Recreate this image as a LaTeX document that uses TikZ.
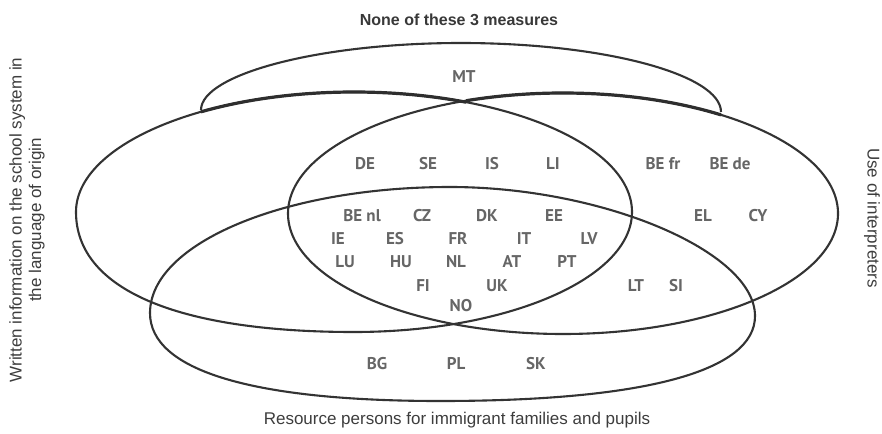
\documentclass[tikz,border=0pt]{standalone}
\usepackage{fontspec}
\setmainfont{Liberation Sans}
\newfontfamily\codefont{PT Sans}
\begin{document}
\begin{tikzpicture}[x=1pt,y=-1pt,
  setline/.style={line width=2.1pt, draw=black!80, line join=round},
  mtedge/.style={line width=3.2pt, draw=black!82, line join=round},
  cc/.style={font=\codefont\bfseries\fontsize{17}{17}\selectfont, text=black!60,
    inner sep=0pt, text height=12pt, text depth=0pt},
  caption/.style={font=\fontsize{17}{19.5}\selectfont, text=black!76, inner sep=0pt, align=center},
  heading/.style={font=\bfseries\fontsize{16}{16}\selectfont, text=black!78, inner sep=0pt},
]
\useasboundingbox (0,0) rectangle (882,433);

% Written information on the school system (fuller lower-left quarter)
\draw[setline] (76,212)
  .. controls (76,145.7) and (200.5,92) .. (354,92)
  .. controls (507.5,92) and (632,145.7) .. (632,212)
  .. controls (632,278.3) and (507.5,332) .. (354,332)
  .. controls (176,332) and (76,288.8) .. cycle;

% Use of interpreters
\draw[setline] (563,213.5) ellipse [x radius=275, y radius=120.5];

% Resource persons for immigrant families and pupils
\draw[setline] (150,313)
  .. controls (150,243.4) and (284.4,187) .. (450,187)
  .. controls (602.5,187) and (755,251.5) .. (755,316)
  .. controls (755,371.25) and (644.75,401) .. (440,401)
  .. controls (251.5,401) and (150,370.2) .. cycle;

% None of these 3 measures: cap resting on the two upper arcs
\draw[setline] (201,110)
  .. controls (201,74.7) and (317.5,43) .. (461,43)
  .. controls (604.5,43) and (721,74.7) .. (721,112);
\draw[mtedge] plot[domain=201:466, samples=40, variable=\t]
  (\t, {212-120*sqrt(1-((\t-354)/278)^2)});
\draw[mtedge] plot[domain=466:721, samples=40, variable=\t]
  (\t, {213.5-120.5*sqrt(1-((\t-563)/275)^2)});

% set captions
\node[heading] (top) at (459,20) {None of these 3 measures};
\node[caption] (bottom) at (457,420) {Resource persons for immigrant families and pupils};
\node[caption, rotate=90] (left) at (27,220) {Written information on the school system in\\the language of origin};
\node[caption, rotate=-90] (right) at (872,218) {Use of interpreters};

% country codes
\node[cc] (MT) at (464,77) {MT};

\node[cc] (DE) at (365,163) {DE};
\node[cc] (SE) at (428,163) {SE};
\node[cc] (IS) at (492,163) {IS};
\node[cc] (LI) at (553,163) {LI};
\node[cc] (BEfr) at (663,163) {BE fr};
\node[cc] (BEde) at (730,163) {BE de};

\node[cc] (BEnl) at (362,215) {BE nl};
\node[cc] (CZ) at (422,215) {CZ};
\node[cc] (DK) at (487,215) {DK};
\node[cc] (EE) at (554,215) {EE};
\node[cc] (EL) at (703,215) {EL};
\node[cc] (CY) at (758,215) {CY};

\node[cc] (IE) at (338,238) {IE};
\node[cc] (ES) at (395,238) {ES};
\node[cc] (FR) at (458,238) {FR};
\node[cc] (IT) at (524,238) {IT};
\node[cc] (LV) at (589,238) {LV};

\node[cc] (LU) at (345,261) {LU};
\node[cc] (HU) at (401,261) {HU};
\node[cc] (NL) at (456,261) {NL};
\node[cc] (AT) at (512,261) {AT};
\node[cc] (PT) at (567,261) {PT};

\node[cc] (FI) at (423,285) {FI};
\node[cc] (UK) at (497,285) {UK};
\node[cc] (LT) at (636,285) {LT};
\node[cc] (SI) at (676,285) {SI};

\node[cc] (NO) at (461,305) {NO};

\node[cc] (BG) at (377,363) {BG};
\node[cc] (PL) at (456,363) {PL};
\node[cc] (SK) at (536,363) {SK};
\end{tikzpicture}
\end{document}
